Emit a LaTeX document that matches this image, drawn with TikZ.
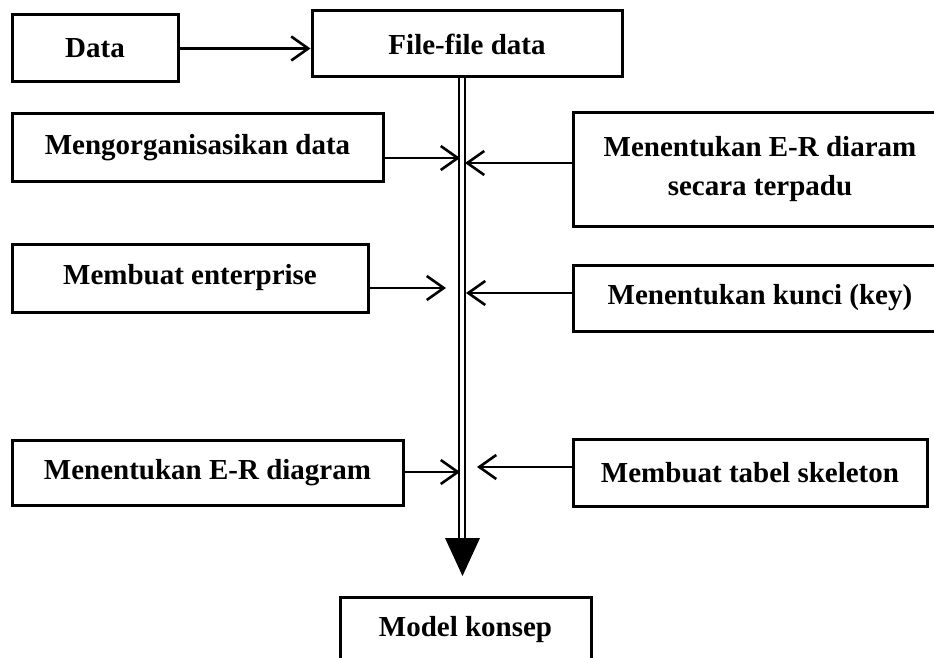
\documentclass[tikz,border=0pt]{standalone}
\usepackage{fontspec}
\setmainfont{Liberation Serif}
\usetikzlibrary{arrows.meta}
\begin{document}
\begin{tikzpicture}[x=1pt,y=-1pt,
  box/.style={draw, line width=3pt, inner sep=0pt, align=center,
    font=\fontsize{29}{39}\selectfont\bfseries},
  arr/.style={line width=2.6pt,
    -{Straight Barb[length=17pt,width=24pt,line width=2.6pt]}},
  spine/.style={line width=2.5pt}]
\clip (0,0) rectangle (934,658);
\fill[white] (0,0) rectangle (934,658);

% process boxes
\node[box, minimum width=166pt, minimum height=67pt] (data) at (95,48.5) {Data};
\node[box, minimum width=310pt, minimum height=66pt] (file) at (467,44) {File-file data};
\node[box, minimum width=371pt, minimum height=67pt] (org) at (197.5,147.5) {Mengorganisasikan data};
\node[box, minimum width=374pt, minimum height=113pt] (erd) at (760,169.5) {Menentukan E-R diaram\\secara terpadu};
\node[box, minimum width=356pt, minimum height=68pt] (ent) at (190,278) {Membuat enterprise};
\node[box, minimum width=374pt, minimum height=66pt] (kunci) at (760,298) {Menentukan kunci (key)};
\node[box, minimum width=391pt, minimum height=65pt] (erdiag) at (207.5,472.5) {Menentukan E-R diagram};
\node[box, minimum width=354pt, minimum height=67pt] (skel) at (750,472.5) {Membuat tabel skeleton};
\node[box, minimum width=251pt, minimum height=65pt] (model) at (465.5,629.5) {Model konsep};

% main flow line (double) with its filled head
\coordinate (st) at (462,77);
\coordinate (sb) at (462,540);
\draw[spine] ([xshift=-2.8pt]st) -- ([xshift=-2.8pt]sb);
\draw[spine] ([xshift=2.8pt]st) -- ([xshift=2.8pt]sb);
\coordinate (hl) at (445,538);
\coordinate (hr) at (480,538);
\coordinate (ht) at (462.5,576);
\fill (hl) -- (hr) -- (ht) -- cycle;

% arrow ends on the flow line
\coordinate (t1) at (460,158);
\coordinate (t2) at (465,163);
\coordinate (t3) at (446,288);
\coordinate (t4) at (466,293);
\coordinate (t5) at (460,472);
\coordinate (t6) at (477,467);

\draw[arr] (data.east) -- (file.west |- data.east);
\draw[arr] (org.east |- t1) -- (t1);
\draw[arr] (erd.west |- t2) -- (t2);
\draw[arr] (ent.east |- t3) -- (t3);
\draw[arr] (kunci.west |- t4) -- (t4);
\draw[arr] (erdiag.east |- t5) -- (t5);
\draw[arr] (skel.west |- t6) -- (t6);
\end{tikzpicture}
\end{document}
